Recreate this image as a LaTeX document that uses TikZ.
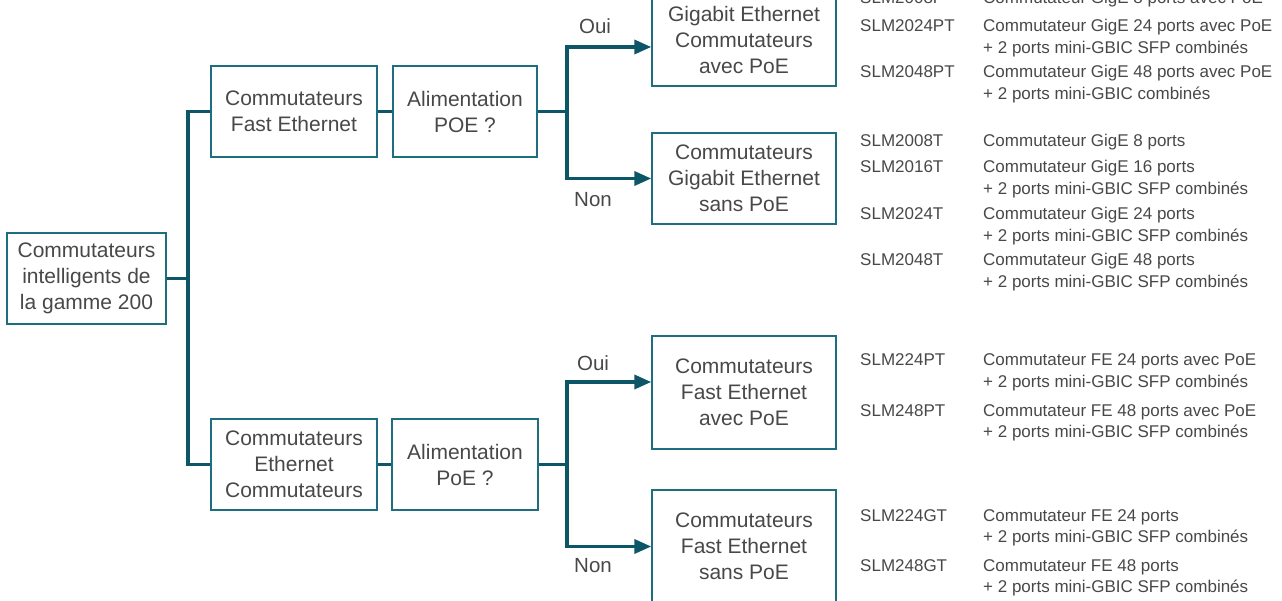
\documentclass[tikz,border=0pt]{standalone}
\usepackage{fontspec}
\setmainfont{Liberation Sans}
\usetikzlibrary{arrows.meta}
\definecolor{lineC}{RGB}{12,86,104}
\definecolor{boxC}{RGB}{30,110,128}
\definecolor{txt}{RGB}{72,72,72}
\begin{document}
\begin{tikzpicture}[x=1pt,y=-1pt,
  box/.style={draw=boxC, line width=1.4pt, text=txt, align=center,
    font=\fontsize{21}{26}\selectfont, inner sep=0pt},
  conn/.style={draw=lineC, line width=3.5pt},
  arr/.style={conn, -{Triangle[length=17pt,width=14pt]}},
  lbl/.style={text=txt, font=\fontsize{20.5}{26}\selectfont, inner sep=0pt},
  lst/.style={text=txt, font=\fontsize{17}{21}\selectfont, anchor=base west, inner sep=0pt}]
\useasboundingbox (0,0) rectangle (1282,601);

% boxes
\node[box, minimum width=159pt, minimum height=91pt] (root) at (86.5,278.5) {Commutateurs\\intelligents de\\la gamme 200};
\node[box, minimum width=166pt, minimum height=91pt] (fe1) at (294,111.5) {Commutateurs\\Fast Ethernet};
\node[box, minimum width=144pt, minimum height=91pt] (alim1) at (465,111.5) {Alimentation\\POE ?};
\node[box, minimum width=166pt, minimum height=91pt] (fe2) at (294,464.5) {Commutateurs\\Ethernet\\Commutateurs};
\node[box, minimum width=146pt, minimum height=91pt] (alim2) at (465,464.5) {Alimentation\\PoE ?};
\node[box, minimum width=184pt, minimum height=92pt] (gA) at (744,40) {Gigabit Ethernet\\Commutateurs\\avec PoE};
\node[box, minimum width=184pt, minimum height=91pt] (gS) at (744,178.5) {Commutateurs\\Gigabit Ethernet\\sans PoE};
\node[box, minimum width=184pt, minimum height=113pt] (fA) at (744,392.5) {Commutateurs\\Fast Ethernet\\avec PoE};
\node[box, minimum width=184pt, minimum height=113pt] (fS) at (744,546.5) {Commutateurs\\Fast Ethernet\\sans PoE};

% connectors
\coordinate (bus) at (188,280);
\draw[conn] (root.east) -- (root.east -| bus);
\draw[conn] (fe1.west) -| (bus) |- (fe2.west);
\draw[conn] (fe1) -- (alim1);
\draw[conn] (fe2) -- (alim2);
\coordinate (s1) at (567,111.5);
\coordinate (s2) at (567,464.5);
\draw[conn] (alim1.east) -- (s1);
\draw[conn] (alim2.east) -- (s2);
\draw[arr] (s1) |- ([yshift=-7pt]gA.west);
\draw[arr] (s1) |- (gS.west);
\draw[arr] (s2) |- ([yshift=10.5pt]fA.west);
\draw[arr] (s2) |- (fS.west);

% labels
\node[lbl] (oui1) at (595,26) {Oui};
\node[lbl] (non1) at (593,200) {Non};
\node[lbl] (oui2) at (593,363) {Oui};
\node[lbl] (non2) at (593,566) {Non};

% lists
\node[lst] (m1) at (860,4) {SLM2008P};
\node[lst] (d1) at (983,4) {Commutateur GigE 8 ports avec PoE};
\node[lst] (m2) at (860,32) {SLM2024PT};
\node[lst] (d2) at (983,32) {Commutateur GigE 24 ports avec PoE};
\node[lst] (d2b) at (983,53.5) {+ 2 ports mini-GBIC SFP combinés};
\node[lst] (m3) at (860,78) {SLM2048PT};
\node[lst] (d3) at (983,78) {Commutateur GigE 48 ports avec PoE};
\node[lst] (d3b) at (983,99.5) {+ 2 ports mini-GBIC combinés};

\node[lst] (m4) at (860,147) {SLM2008T};
\node[lst] (d4) at (983,147) {Commutateur GigE 8 ports};
\node[lst] (m5) at (860,173) {SLM2016T};
\node[lst] (d5) at (983,173) {Commutateur GigE 16 ports};
\node[lst] (d5b) at (983,194.5) {+ 2 ports mini-GBIC SFP combinés};
\node[lst] (m6) at (860,220) {SLM2024T};
\node[lst] (d6) at (983,220) {Commutateur GigE 24 ports};
\node[lst] (d6b) at (983,241.5) {+ 2 ports mini-GBIC SFP combinés};
\node[lst] (m7) at (860,266) {SLM2048T};
\node[lst] (d7) at (983,266) {Commutateur GigE 48 ports};
\node[lst] (d7b) at (983,287.5) {+ 2 ports mini-GBIC SFP combinés};

\node[lst] (m8) at (860,366) {SLM224PT};
\node[lst] (d8) at (983,366) {Commutateur FE 24 ports avec PoE};
\node[lst] (d8b) at (983,387.5) {+ 2 ports mini-GBIC SFP combinés};
\node[lst] (m9) at (860,416) {SLM248PT};
\node[lst] (d9) at (983,416) {Commutateur FE 48 ports avec PoE};
\node[lst] (d9b) at (983,437.5) {+ 2 ports mini-GBIC SFP combinés};

\node[lst] (m10) at (860,521) {SLM224GT};
\node[lst] (d10) at (983,521) {Commutateur FE 24 ports};
\node[lst] (d10b) at (983,542.5) {+ 2 ports mini-GBIC SFP combinés};
\node[lst] (m11) at (860,571) {SLM248GT};
\node[lst] (d11) at (983,571) {Commutateur FE 48 ports};
\node[lst] (d11b) at (983,592.5) {+ 2 ports mini-GBIC SFP combinés};
\end{tikzpicture}
\end{document}
